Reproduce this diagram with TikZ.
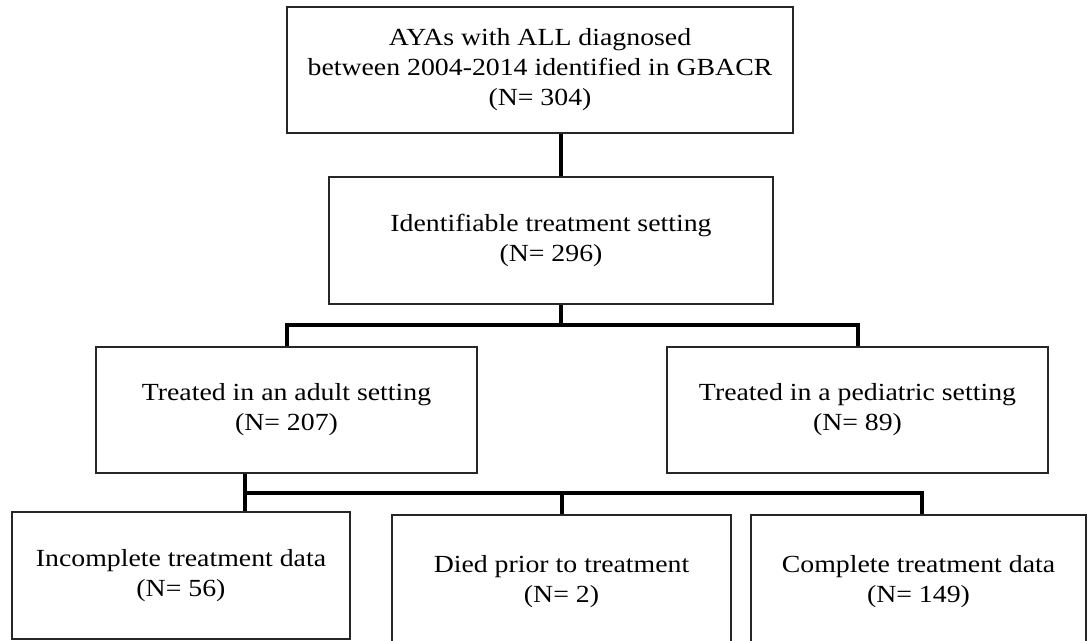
\documentclass[tikz,border=0pt]{standalone}
\usepackage{fontspec}
\setmainfont[FakeStretch=1.13]{Liberation Serif}
\begin{document}
\begin{tikzpicture}[x=1pt,y=-1pt,
  box/.style={draw=black!85, line width=1.8pt, inner sep=0pt, align=center,
    font=\fontsize{24.6}{30}\selectfont},
  conn/.style={line width=4pt, black}]
\clip (0,0) rectangle (1087,640);
\fill[white] (0,0) rectangle (1087,640);
% boxes
\node[box, minimum width=506pt, minimum height=126pt] (top) at (540,70)
  {AYAs with ALL diagnosed\\between 2004-2014 identified in GBACR\\(N= 304)};
\node[box, minimum width=444pt, minimum height=127pt] (second) at (551,240.5)
  {Identifiable treatment setting\\(N= 296)};
\node[box, minimum width=381pt, minimum height=126pt] (adult) at (286.5,410)
  {Treated in an adult setting\\(N= 207)};
\node[box, minimum width=381pt, minimum height=126pt] (ped) at (857.5,410)
  {Treated in a pediatric setting\\(N= 89)};
\node[box, minimum width=338pt, minimum height=127pt] (lb) at (181,575.5)
  {Incomplete treatment data\\(N= 56)};
\node[box, minimum width=339pt, minimum height=134pt] (mb) at (561.5,582)
  {Died prior to treatment\\(N= 2)};
\node[box, minimum width=335pt, minimum height=134pt] (rb) at (918.5,582)
  {Complete treatment data\\(N= 149)};
% junctions
\coordinate (j1) at (561,325);
\coordinate (j2) at (245,493);
\coordinate (j3) at (922,493);
% connectors
\draw[conn] (top.south -| j1) -- (second.north -| j1);
\draw[conn] (second.south -| j1) -- (j1);
\draw[conn] (adult.north) |- (j1) -| (ped.north);
\draw[conn] (adult.south -| j2) -- (lb.north -| j2);
\draw[conn] (j2) -- (j3) -- (rb.north -| j3);
\draw[conn] (j2 -| mb.north) -- (mb.north);
\end{tikzpicture}
\end{document}
